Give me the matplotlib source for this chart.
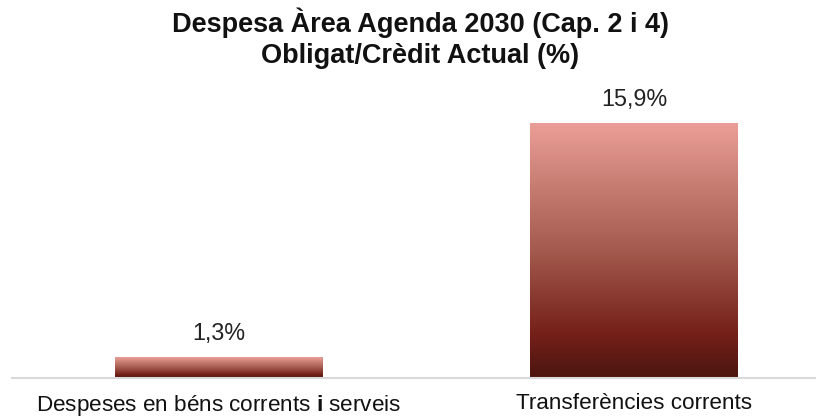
import numpy as np
import matplotlib
matplotlib.use("Agg")
import matplotlib.pyplot as plt
from matplotlib.colors import LinearSegmentedColormap

plt.rcParams['font.family'] = ['Liberation Sans', 'DejaVu Sans']
plt.rcParams['mathtext.fontset'] = 'custom'
plt.rcParams['mathtext.rm'] = 'Liberation Sans'
plt.rcParams['mathtext.bf'] = 'Liberation Sans:bold'

categories = ["Despeses en béns corrents $\\mathbf{i}$ serveis", "Transferències corrents"]
values = [1.3, 15.9]
value_labels = ["1,3%", "15,9%"]
title = "Despesa Àrea Agenda 2030 (Cap. 2 i 4)\nObligat/Crèdit Actual (%)"

fig = plt.figure(figsize=(8.27, 4.19), dpi=100)
ax = fig.add_axes([12/827, 1 - 378/419, 803/827, 288/419])

cmap = LinearSegmentedColormap.from_list(
    "grad", [(0.0, "#4C1510"), (0.17, "#742018"), (0.5, "#A45A4E"), (1.0, "#EA9E96")])

x = np.arange(len(values))
bars = ax.bar(x, values, width=0.5, color="none", edgecolor="none")
grad = np.linspace(0, 1, 256).reshape(-1, 1)
for b in bars:
    x0, y0 = b.get_x(), b.get_y()
    w, h = b.get_width(), b.get_height()
    ax.imshow(grad, cmap=cmap, origin="lower", aspect="auto",
              extent=[x0, x0 + w, y0, y0 + h], zorder=2, interpolation="bilinear")

for xi, v, lab in zip(x, values, value_labels):
    ax.annotate(lab, (xi, v), xytext=(0, 9), textcoords="offset points",
                ha="center", va="bottom", fontsize=16.8, color="#222222")

ax.set_xlim(-0.497, 1.436)
ax.set_ylim(0, 18)
for s in ["top", "right", "left"]:
    ax.spines[s].set_visible(False)
ax.spines["bottom"].set_color("#D9D9D9")
ax.spines["bottom"].set_linewidth(1.5)
ax.set_yticks([])
ax.set_xticks(x)
ax.set_xticklabels(categories, fontsize=16.2, color="#111111")
ax.tick_params(axis="x", length=0, pad=11)

fig.text(0.508, 0.982, title, ha="center", va="top", fontsize=19.5,
         fontweight="bold", linespacing=1.27, color="#111111")

fig.savefig("out.png", dpi=100)
